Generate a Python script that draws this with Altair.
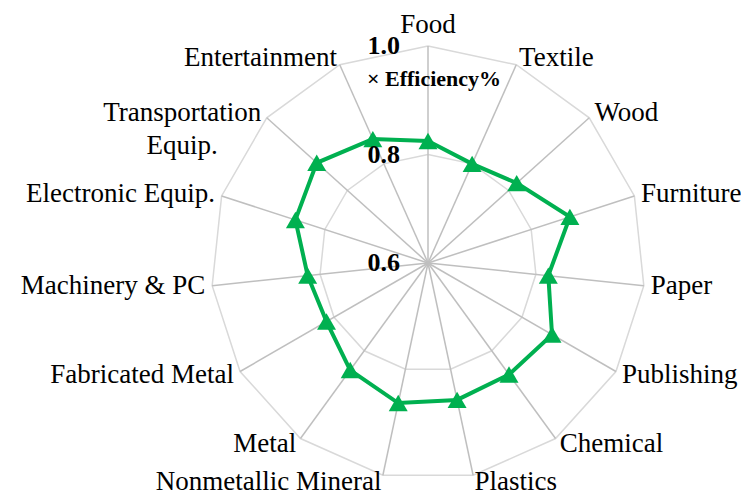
import altair as alt
import numpy as np
import pandas as pd

# categorias en el orden del grafico (sentido horario desde arriba)
CATEGORIES = [
    "Food",
    "Textile",
    "Wood",
    "Furniture",
    "Paper",
    "Publishing",
    "Chemical",
    "Plastics",
    "Nonmetallic Mineral",
    "Metal",
    "Fabricated Metal",
    "Machinery & PC",
    "Electronic Equip.",
    "Transportation\nEquip.",
    "Entertainment",
]
EFFICIENCY = [
    0.825, 0.800, 0.820, 0.875, 0.823, 0.864, 0.854, 0.858,
    0.864, 0.844, 0.816, 0.823, 0.857, 0.876, 0.850,
]
RING_VALUES = [0.8, 1.0]
TICK_VALUES = [0.6, 0.8, 1.0]
TICK_LABELS = ["0.6", "0.8", "1.0"]
AXIS_TITLE = "× Efficiency%"

R_MIN, R_MAX = 0.6, 1.0
RADIUS_PX = 217
LABEL_GAP_PX = 7
FONT = "Liberation Serif"
LABEL_SIZE = 27

n = len(CATEGORIES)
theta = np.deg2rad(90 - 360 / n * np.arange(n))


def unit(v):
    return (np.asarray(v) - R_MIN) / (R_MAX - R_MIN)


XS = alt.Scale(domain=[-1, 1], nice=False, zero=False)
YS = alt.Scale(domain=[-1, 1], nice=False, zero=False)


def xy(xf="x", yf="y"):
    return dict(
        x=alt.X(f"{xf}:Q", scale=XS, axis=None),
        y=alt.Y(f"{yf}:Q", scale=YS, axis=None),
    )


# anillos de la grilla (poligonos cerrados)
ring_rows = []
for rv in RING_VALUES:
    u = unit(rv)
    for k in range(n + 1):
        t = theta[k % n]
        ring_rows.append({"ring": rv, "k": k, "x": u * np.cos(t), "y": u * np.sin(t)})
rings = (
    alt.Chart(pd.DataFrame(ring_rows))
    .mark_line(color="#d9d9d9", strokeWidth=1.5)
    .encode(**xy(), detail="ring:N", order="k:Q")
)

# radios
spoke_df = pd.DataFrame({"x0": 0.0, "y0": 0.0, "x1": np.cos(theta), "y1": np.sin(theta)})
spokes = (
    alt.Chart(spoke_df)
    .mark_rule(color="#bfbfbf", strokeWidth=1.5)
    .encode(**xy("x0", "y0"), x2="x1:Q", y2="y1:Q")
)

# serie
u_val = unit(EFFICIENCY)
series_df = pd.DataFrame({
    "cat": CATEGORIES + [CATEGORIES[0]],
    "k": np.arange(n + 1),
    "value": EFFICIENCY + [EFFICIENCY[0]],
    "x": np.append(u_val * np.cos(theta), u_val[0] * np.cos(theta[0])),
    "y": np.append(u_val * np.sin(theta), u_val[0] * np.sin(theta[0])),
})
line = (
    alt.Chart(series_df)
    .mark_line(color="#00b050", strokeWidth=4)
    .encode(**xy(), order="k:Q")
)
markers = (
    alt.Chart(series_df.iloc[:n])
    .mark_point(shape="triangle-up", filled=True, size=360, color="#00b050", opacity=1)
    .encode(**xy())
)

# etiquetas de categoria
u_lab = 1 + LABEL_GAP_PX / RADIUS_PX
lab_rows = []
for cat, t in zip(CATEGORIES, theta):
    c, s = np.cos(t), np.sin(t)
    x, y = u_lab * c, u_lab * s
    align = "left" if c > 0.15 else ("right" if c < -0.15 else "center")
    baseline = "bottom" if s > 0.99 else "middle"
    if "\n" in cat:
        # varias lineas: centradas bajo la linea mas larga
        longest = max(len(p) for p in cat.split("\n"))
        half_w = 0.42 * LABEL_SIZE * longest / 2 / RADIUS_PX
        x = x + half_w if align == "left" else x - half_w
        align = "center"
    lab_rows.append({"label": cat, "x": x, "y": y, "align": align, "baseline": baseline})
lab_df = pd.DataFrame(lab_rows)

label_layers = []
for (al, bl), grp in lab_df.groupby(["align", "baseline"]):
    label_layers.append(
        alt.Chart(grp)
        .mark_text(align=al, baseline=bl, font=FONT, fontSize=LABEL_SIZE,
                   color="#000000", lineBreak="\n", lineHeight=33)
        .encode(**xy(), text="label:N")
    )

# etiquetas del eje radial
tick_df = pd.DataFrame({"x": 0.0, "y": unit(TICK_VALUES), "t": TICK_LABELS})
ticks = (
    alt.Chart(tick_df)
    .mark_text(align="right", baseline="middle", dx=-28, font=FONT,
               fontSize=26, fontWeight="bold", color="#000000")
    .encode(**xy(), text="t:N")
)

title_df = pd.DataFrame({"x": [0.0], "y": [unit(R_MAX)], "t": [AXIS_TITLE]})
axis_title = (
    alt.Chart(title_df)
    .mark_text(align="center", baseline="alphabetic", dx=6, dy=40, font=FONT,
               fontSize=22, fontWeight="bold", color="#000000")
    .encode(**xy(), text="t:N")
)

chart = (
    alt.layer(rings, spokes, line, markers, *label_layers, ticks, axis_title)
    .properties(
        width=2 * RADIUS_PX,
        height=2 * RADIUS_PX,
        padding={"left": 203, "top": 38, "right": 96, "bottom": 13},
        autosize=alt.AutoSizeParams(type="none"),
    )
    .configure_view(stroke=None)
)

chart.save("out.html", embed_options={"renderer": "svg", "actions": False})
